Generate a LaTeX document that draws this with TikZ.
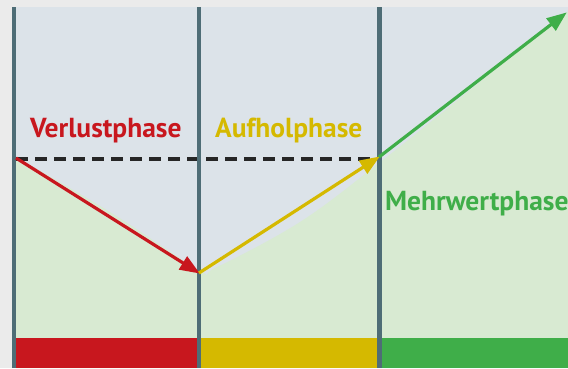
\documentclass[tikz,border=0pt]{standalone}
\usepackage{fontspec}
\setmainfont{PT Sans}
\usetikzlibrary{arrows.meta}
\definecolor{pageGray}{HTML}{EBEBEB}
\definecolor{panelBlue}{HTML}{DCE3E9}
\definecolor{areaGreen}{HTML}{D8EAD2}
\definecolor{barSlate}{HTML}{4E6D76}
\definecolor{lossRed}{HTML}{C8171E}
\definecolor{catchYellow}{HTML}{D5B900}
\definecolor{gainGreen}{HTML}{3FAE49}
\tikzset{
  phaselabel/.style={font=\fontsize{27.5}{27.5}\selectfont\bfseries, inner sep=0pt, anchor=base west},
  trend/.style={line width=3.2pt, -{Triangle[length=20pt,width=15pt]}, shorten >=-1pt},
  divider/.style={fill=barSlate},
}
\begin{document}
\begin{tikzpicture}[x=1pt,y=-1pt]
  \useasboundingbox (0,0) rectangle (568,368);
  \clip (0,0) rectangle (568,368);
  % page and panel background
  \fill[pageGray] (0,0) rectangle (568,368);
  \fill[panelBlue] (12,7) rectangle (568,368);
  % value area beneath the trend
  \fill[areaGreen] plot[smooth, tension=0.6] coordinates {(16,157) (110,212) (199,270) (215,268) (300,222) (379,163) (470,90) (545,28) (600,-10)}
     -- (600,368) -- (16,368) -- cycle;
  % key points of the trend
  \coordinate (start) at (16,158);
  \coordinate (low) at (199,273);
  \coordinate (even) at (379,157);
  \coordinate (peak) at (566,13);
  \coordinate (dashend) at (379,159);
  % break-even line
  \draw[line width=3.4pt, dash pattern=on 12pt off 7pt, black!85] (16,159) -- (dashend);
  % phase bars at the bottom
  \fill[lossRed] (16,338) rectangle (197,368);
  \fill[catchYellow] (201,338) rectangle (377,368);
  \fill[gainGreen] (382,338) rectangle (568,368);
  % vertical dividers
  \fill[divider] (12,7) rectangle (16,368);
  \fill[divider] (197,7) rectangle (201,368);
  \fill[divider] (377,7) rectangle (382,368);
  % trend arrows
  \draw[trend, lossRed] (start) -- (low);
  \draw[trend, catchYellow] (low) -- (even);
  \draw[trend, gainGreen] (even) -- (peak);
  % phase labels
  \node[phaselabel, text=lossRed] (verlust) at (30,137) {Verlustphase};
  \node[phaselabel, text=catchYellow] (aufhol) at (215,137) {Aufholphase};
  \node[phaselabel, text=gainGreen] (mehrwert) at (385,210) {Mehrwertphase};
\end{tikzpicture}
\end{document}
